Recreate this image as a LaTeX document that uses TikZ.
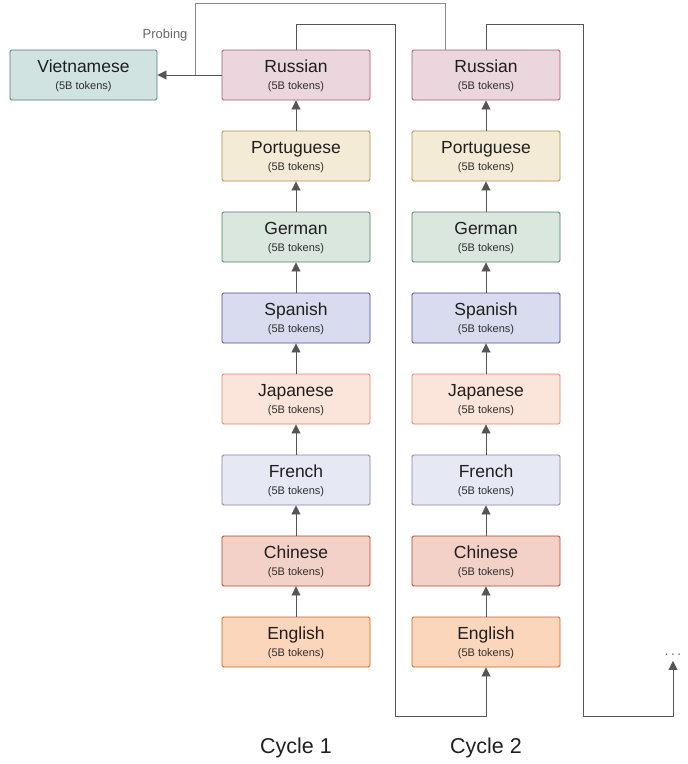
\documentclass[tikz,border=0pt]{standalone}
\usepackage{fontspec}
\setmainfont{Liberation Sans}
\usetikzlibrary{arrows.meta}
\definecolor{vietF}{HTML}{D0E3E1}\definecolor{vietD}{HTML}{4E7E7C}
\definecolor{rusF}{HTML}{EAD6DC}\definecolor{rusD}{HTML}{A35A70}
\definecolor{porF}{HTML}{F3EBD5}\definecolor{porD}{HTML}{A88E4E}
\definecolor{gerF}{HTML}{DAE7DE}\definecolor{gerD}{HTML}{4F8060}
\definecolor{spaF}{HTML}{D9DCEE}\definecolor{spaD}{HTML}{4A4E8E}
\definecolor{japF}{HTML}{FBE5DA}\definecolor{japD}{HTML}{D9866A}
\definecolor{freF}{HTML}{E6E9F3}\definecolor{freD}{HTML}{7E849E}
\definecolor{chiF}{HTML}{F3D1C6}\definecolor{chiD}{HTML}{A9462A}
\definecolor{engF}{HTML}{FCD6BA}\definecolor{engD}{HTML}{C8621E}
\definecolor{lineC}{HTML}{8A8A8A}
\definecolor{headC}{HTML}{555555}
\newcommand{\langbox}[4]{%
  \node[langbox, fill=#4F, draw=#4D] (#1) at (#2) {};
  \node[anchor=base, yshift=3pt, font=\fontsize{17.5}{17.5}\selectfont, text=black!88] (#1t) at (#1.center) {#3};
  \node[anchor=base, yshift=-14pt, font=\fontsize{11}{11}\selectfont, text=black!82] (#1s) at (#1.center) {(5B tokens)};
}
\begin{document}
\begin{tikzpicture}[x=1pt, y=-1pt,
  langbox/.style={rectangle, rounded corners=1.5pt, line width=0.9pt, minimum width=148pt, minimum height=50pt, inner sep=0pt},
  conn/.style={draw=lineC, line width=0.9pt},
  arr/.style={draw=lineC, line width=0.9pt, -{Triangle[length=9pt,width=9pt,fill=headC]}, headC},
]
\useasboundingbox (0,0) rectangle (688,764);
% column 1
\langbox{rA}{296,75}{Russian}{rus}
\langbox{pA}{296,156}{Portuguese}{por}
\langbox{gA}{296,237}{German}{ger}
\langbox{sA}{296,318}{Spanish}{spa}
\langbox{jA}{296,399}{Japanese}{jap}
\langbox{fA}{296,480}{French}{fre}
\langbox{cA}{296,561}{Chinese}{chi}
\langbox{eA}{296,642}{English}{eng}
% column 2
\langbox{rB}{486,75}{Russian}{rus}
\langbox{pB}{486,156}{Portuguese}{por}
\langbox{gB}{486,237}{German}{ger}
\langbox{sB}{486,318}{Spanish}{spa}
\langbox{jB}{486,399}{Japanese}{jap}
\langbox{fB}{486,480}{French}{fre}
\langbox{cB}{486,561}{Chinese}{chi}
\langbox{eB}{486,642}{English}{eng}
% Vietnamese
\node[langbox, minimum width=147pt, fill=vietF, draw=vietD] (vi) at (83.5,75) {};
\node[anchor=base, yshift=3pt, font=\fontsize{17.5}{17.5}\selectfont, text=black!88] (vit) at (vi.center) {Vietnamese};
\node[anchor=base, yshift=-14pt, font=\fontsize{11}{11}\selectfont, text=black!82] (vis) at (vi.center) {(5B tokens)};
% arrows within columns
\foreach \c in {A,B}{
  \draw[arr] (e\c.north) -- (c\c.south);
  \draw[arr] (c\c.north) -- (f\c.south);
  \draw[arr] (f\c.north) -- (j\c.south);
  \draw[arr] (j\c.north) -- (s\c.south);
  \draw[arr] (s\c.north) -- (g\c.south);
  \draw[arr] (g\c.north) -- (p\c.south);
  \draw[arr] (p\c.north) -- (r\c.south);
}
% probing
\coordinate (pj) at (195,75);
\draw[arr] (rA.west) -- (vi.east);
\draw[conn] ([xshift=-41pt]rB.north) -- ++(0,-46) -| (pj);
\node[anchor=east, font=\fontsize{13}{13}\selectfont, text=black!60] (prob) at (191,35) {Probing};
% cycle 1 -> cycle 2
\coordinate (a1) at (296,24);
\coordinate (a2) at (395,24);
\coordinate (a3) at (395,716);
\coordinate (a4) at (486,716);
\draw[arr] (rA.north) -- (a1) -- (a2) -- (a3) -- (a4) -- (eB.south);
% cycle 2 -> ...
\node[font=\fontsize{14}{14}\selectfont, text=black!60, inner sep=1pt] (dots) at (673,655) {.\hspace{2.5pt}.\hspace{2.5pt}.};
\coordinate (b1) at (486,24);
\coordinate (b2) at (583,24);
\coordinate (b3) at (583,716);
\coordinate (b4) at (673,716);
\draw[arr] (rB.north) -- (b1) -- (b2) -- (b3) -- (b4) -- ([yshift=-4pt]dots.south);
% cycle labels
\node[font=\fontsize{21.5}{21.5}\selectfont, text=black!88] (cy1) at (296,748) {Cycle 1};
\node[font=\fontsize{21.5}{21.5}\selectfont, text=black!88] (cy2) at (486,748) {Cycle 2};
\end{tikzpicture}
\end{document}
